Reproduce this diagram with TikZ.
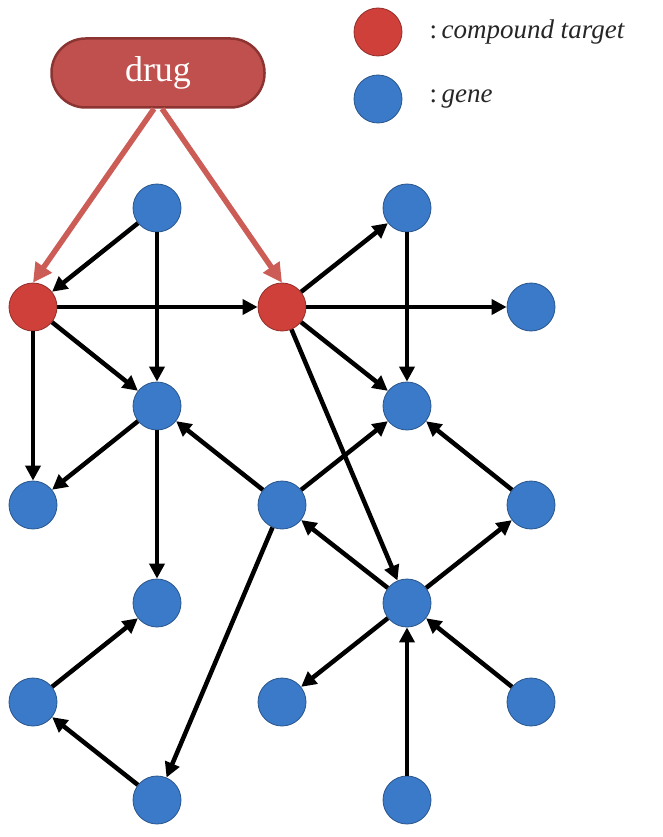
\documentclass[tikz,border=0pt]{standalone}
\usepackage{fontspec}
\setmainfont{Liberation Serif}
\usetikzlibrary{arrows.meta}
\definecolor{nodered}{RGB}{208,64,58}
\definecolor{nodeblue}{RGB}{58,122,200}
\definecolor{drugred}{RGB}{192,80,77}
\definecolor{drugedge}{RGB}{140,52,50}
\definecolor{arrowred}{RGB}{204,92,86}
\tikzset{
  target/.style={circle,minimum size=48pt,inner sep=0pt,fill=nodered,draw=nodered!70!black,line width=0.8pt},
  gene/.style={circle,minimum size=48pt,inner sep=0pt,fill=nodeblue,draw=nodeblue!70!black,line width=0.8pt},
  link/.style={line width=4.5pt,-{Triangle[length=15pt,width=15pt]}},
  hit/.style={line width=5.5pt,draw=arrowred,-{Triangle[length=19pt,width=19pt,fill=arrowred]}},
  drugbox/.style={rectangle,rounded corners=34pt,minimum width=213pt,minimum height=69pt,
    fill=drugred,draw=drugedge,line width=2.5pt,text=white,font=\fontsize{36}{40}\selectfont},
  key/.style={anchor=west,font=\fontsize{27}{32}\selectfont,text=black!85}
}
\begin{document}
\begin{tikzpicture}[x=1pt,y=-1pt]
\useasboundingbox (0,0) rectangle (663,837);

\node[drugbox] (drug) at (158,73) {drug};

% legend
\node[target] (keytarget) at (378,32) {};
\node[gene] (keygene) at (378,99) {};
\node[key] (keytargettext) at (426,32) {:\,\textit{compound target}};
\node[key] (keygenetext) at (426,99) {:\,\textit{gene}};

\node[target] (t1) at (33,307) {};
\node[target] (t2) at (282,307) {};
\node[gene] (g1) at (157,208) {};
\node[gene] (g2) at (407,208) {};
\node[gene] (g3) at (531,307) {};
\node[gene] (g4) at (157,406) {};
\node[gene] (g5) at (407,406) {};
\node[gene] (g6) at (33,505) {};
\node[gene] (g7) at (282,505) {};
\node[gene] (g8) at (531,505) {};
\node[gene] (g9) at (157,603) {};
\node[gene] (g10) at (407,603) {};
\node[gene] (g11) at (33,702) {};
\node[gene] (g12) at (282,702) {};
\node[gene] (g13) at (531,702) {};
\node[gene] (g14) at (157,800) {};
\node[gene] (g15) at (407,800) {};

\draw[hit] ([xshift=-4pt]drug.south) -- (t1.north);
\draw[hit] ([xshift=4pt]drug.south) -- (t2.north);

\foreach \a/\b in {g1/t1,g1/g4,t1/t2,t1/g4,t1/g6,g4/g6,g4/g9,t2/g2,t2/g3,t2/g5,t2/g10,
  g2/g5,g7/g4,g7/g5,g7/g14,g10/g7,g10/g8,g10/g12,g15/g10,g13/g10,g8/g5,g11/g9,g14/g11}
  \draw[link] (\a) -- (\b);
\end{tikzpicture}
\end{document}
